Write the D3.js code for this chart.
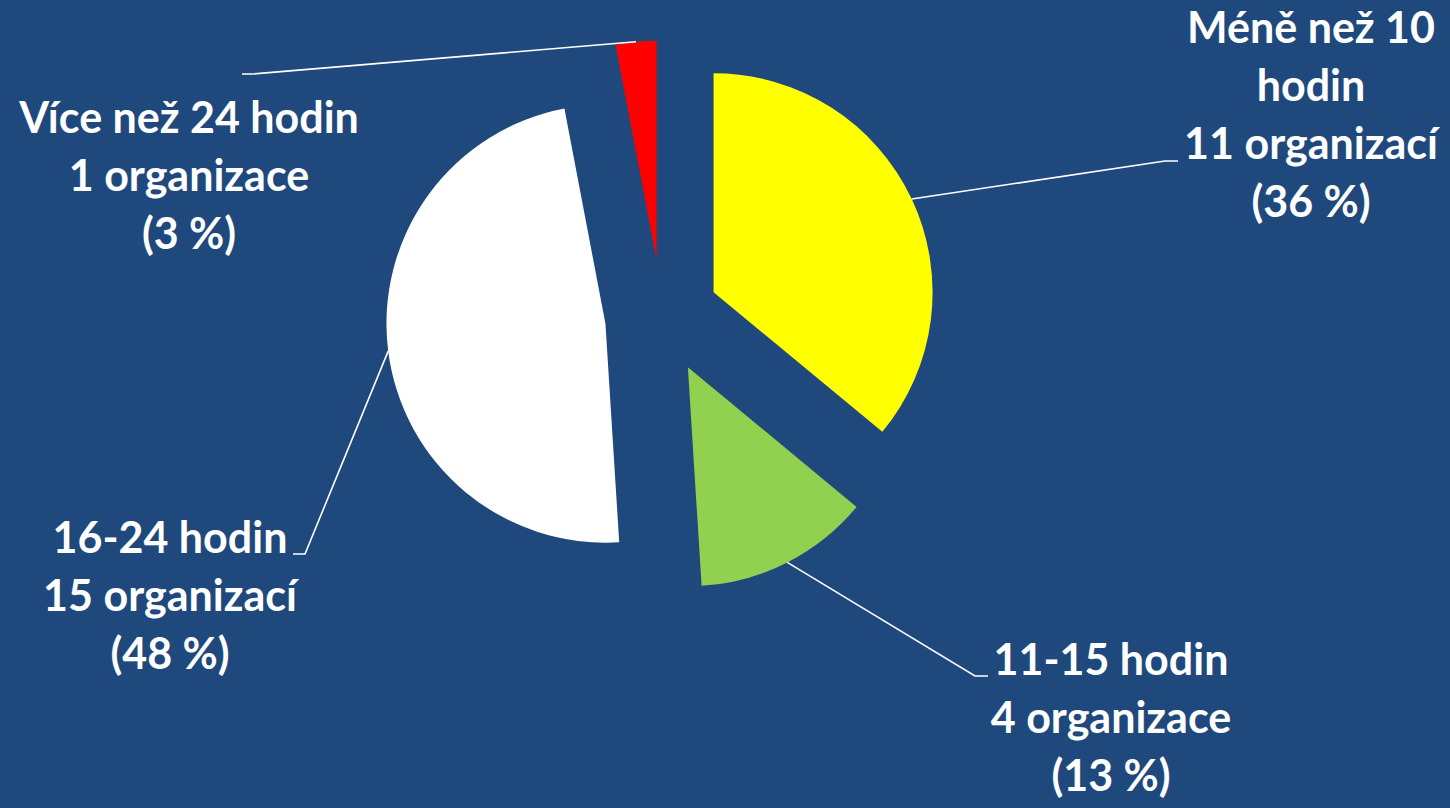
<!DOCTYPE html>
<html lang="cs">
<head>
<meta charset="utf-8">
<script src="https://cdn.jsdelivr.net/npm/d3@7"></script>
<style>
  html, body { margin: 0; padding: 0; background: #1F497D; }
  svg { display: block; }
  .lbl { font-family: Lato, "Open Sans", sans-serif; font-weight: 700; fill: #ffffff; }
</style>
</head>
<body>
<svg id="chart" width="1450" height="808"></svg>
<script>
// Počet organizací podle týdenního rozsahu hodin
const categories = ["Méně než 10 hodin", "11-15 hodin", "16-24 hodin", "Více než 24 hodin"];
const counts = [11, 4, 15, 1];
const percents = [36, 13, 48, 3];
const colors = ["#FFFF00", "#92D050", "#FFFFFF", "#FF0000"];
// first text line(s) of each label (category name, wrapped)
const nameLines = [["Méně než 10", "hodin"], ["11-15 hodin"], ["16-24 hodin"], ["Více než 24 hodin"]];

// layout
const W = 1450, H = 808;
const cx = 662, cy = 316.5, radius = 219, explode = 57;
const lineGap = 58, fontSize = 43;
// label block: centre x, first baseline y; leader elbow and end
const labelLayout = [
  { x: 1311, y: 43,  elbow: [1165, 161], end: [1178, 161] },
  { x: 1111, y: 675, elbow: [975, 676],  end: [988, 676] },
  { x: 170,  y: 553, elbow: [305, 554],  end: [293, 554] },
  { x: 189,  y: 133, elbow: [253, 74],   end: [242, 74] }
];

const orgWord = n => (n >= 1 && n <= 4) ? "organizace" : "organizací";

const svg = d3.select("#chart");
svg.append("rect").attr("width", W).attr("height", H).attr("fill", "#1F497D");

// slices sized by the stated percentages, clockwise from 12 o'clock
const pie = d3.pie().sort(null).value(d => d.value).startAngle(0).endAngle(2 * Math.PI);
const arcs = pie(categories.map((c, i) => ({ name: c, value: percents[i], i })));
const arc = d3.arc().innerRadius(0).outerRadius(radius);

const g = svg.append("g").attr("transform", `translate(${cx},${cy})`);

const offset = a => {
  const m = (a.startAngle + a.endAngle) / 2;
  return [Math.sin(m) * explode, -Math.cos(m) * explode];
};

g.selectAll("path.slice")
  .data(arcs)
  .join("path")
  .attr("class", "slice")
  .attr("d", arc)
  .attr("fill", d => colors[d.data.i])
  .attr("transform", d => `translate(${offset(d)})`);

// leader lines from the outer arc of each slice to its label
svg.selectAll("polyline.leader")
  .data(arcs)
  .join("polyline")
  .attr("class", "leader")
  .attr("fill", "none")
  .attr("stroke", "#ffffff")
  .attr("stroke-width", 1.6)
  .attr("points", d => {
    const m = (d.startAngle + d.endAngle) / 2;
    const o = offset(d);
    const px = cx + o[0] + Math.sin(m) * radius;
    const py = cy + o[1] - Math.cos(m) * radius;
    const L = labelLayout[d.data.i];
    return [[px, py], L.elbow, L.end].map(p => p.join(",")).join(" ");
  });

// data labels
categories.forEach((c, i) => {
  const L = labelLayout[i];
  const lines = [...nameLines[i], `${counts[i]} ${orgWord(counts[i])}`, `(${percents[i]} %)`];
  const t = svg.append("text")
    .attr("class", "lbl")
    .attr("text-anchor", "middle")
    .attr("font-size", fontSize);
  lines.forEach((s, k) => {
    t.append("tspan").attr("x", L.x).attr("y", L.y + k * lineGap).text(s);
  });
});
</script>
</body>
</html>
